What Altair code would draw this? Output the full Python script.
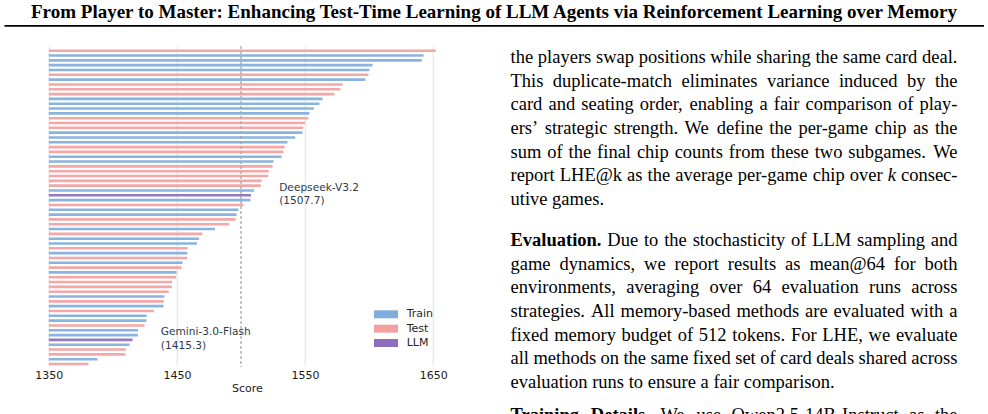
import altair as alt
import pandas as pd

# ---------------- chart data (top to bottom) ----------------
groups = ["Test", "Train", "Train", "Train", "Train", "Test", "Train", "Test", "Test", "Test",
          "Train", "Train", "Train", "Train", "Test", "Test", "Test", "Train", "Train", "Train",
          "Test", "Test", "Train", "Train", "Test", "Test", "Test", "Test", "Test", "Train",
          "LLM", "Train", "Test", "Train", "Train", "Test", "Test", "Train", "Test", "Train",
          "Train", "Test", "Train", "Test", "Train", "Test", "Train", "Test", "Test", "Test",
          "Test", "Train", "Test", "Train", "Test", "Train", "Train", "Test", "Train", "Train",
          "LLM", "Train", "Test", "Test", "Train", "Test"]
scores = [1652.0, 1642.4, 1641.0, 1602.6, 1600.2, 1599.4, 1597.0, 1579.4, 1577.6, 1572.8,
          1563.6, 1561.2, 1556.8, 1553.3, 1552.5, 1550.0, 1548.6, 1547.9, 1542.3, 1536.2,
          1534.0, 1533.1, 1531.6, 1525.4, 1524.6, 1521.5, 1521.3, 1516.0, 1515.4, 1510.2,
          1507.7, 1507.4, 1501.9, 1497.9, 1496.5, 1495.7, 1490.8, 1479.7, 1469.9, 1467.3,
          1465.6, 1458.3, 1458.1, 1457.9, 1454.3, 1453.5, 1449.7, 1449.3, 1446.3, 1446.0,
          1443.6, 1440.3, 1439.7, 1439.5, 1432.1, 1426.3, 1426.2, 1424.7, 1419.7, 1419.5,
          1415.3, 1413.0, 1410.1, 1409.8, 1388.0, 1381.0]
llm_names = ["Deepseek-V3.2", "Gemini-3.0-Flash"]
legend_labels = ["Train", "Test", "LLM"]
legend_colors = ["#7FAEDC", "#F2A0A0", "#8E6CBF"]
tick_values = [1350, 1450, 1550, 1650]
reference_score = [1500]

# ---------------- page text ----------------
header = "From Player to Master: Enhancing Test-Time Learning of LLM Agents via Reinforcement Learning over Memory"
# each line: (text pieces as (string, style)), justified?
para1 = [
    ([("the players swap positions while sharing the same card deal.", "r")], True),
    ([("This duplicate-match eliminates variance induced by the", "r")], True),
    ([("card and seating order, enabling a fair comparison of play-", "r")], True),
    ([("ers\u2019 strategic strength. We define the per-game chip as the", "r")], True),
    ([("sum of the final chip counts from these two subgames. We", "r")], True),
    ([("report LHE@k as the average per-game chip over", "r"), ("k", "i"), ("consec-", "r")], True),
    ([("utive games.", "r")], False),
]
para2 = [
    ([("Evaluation.", "b"), ("Due to the stochasticity of LLM sampling and", "r")], True),
    ([("game dynamics, we report results as mean@64 for both", "r")], True),
    ([("environments, averaging over 64 evaluation runs across", "r")], True),
    ([("strategies. All memory-based methods are evaluated with a", "r")], True),
    ([("fixed memory budget of 512 tokens. For LHE, we evaluate", "r")], True),
    ([("all methods on the same fixed set of card deals shared across", "r")], True),
    ([("evaluation runs to ensure a fair comparison.", "r")], False),
]
para3 = [
    ([("Training Details.", "b"), ("We use Qwen2.5-14B-Instruct as the", "r")], True),
]

# ---------------- tables ----------------
df = pd.DataFrame({"row": list(range(1, len(scores) + 1)), "group": groups, "score": scores})
ann = df[df["group"] == "LLM"].copy()
ann["name"] = llm_names
ann["label"] = ann["score"].map(lambda v: f"({v:.1f})")
ref = pd.DataFrame({"v": reference_score})
one = pd.DataFrame({"k": [0]})

# layout (pixels of the page)
OX, OY = 48.8, 46.0          # plot-area origin inside the 988x414 page
W, H = 396.0, 321.0

# ---- approximate Times metrics (per 1000 em) for justified typesetting ----
_R = dict(zip("ABCDEFGHIJKLMNOPQRSTUVWXYZ",
              [722, 667, 667, 722, 611, 556, 722, 722, 333, 389, 722, 611, 889, 722, 722, 556, 722, 667, 556, 611, 722, 722, 944, 722, 722, 611]))
_R.update(dict(zip("abcdefghijklmnopqrstuvwxyz",
                   [444, 500, 444, 500, 444, 333, 500, 500, 278, 278, 500, 278, 778, 500, 500, 500, 500, 333, 389, 278, 500, 500, 722, 500, 500, 444])))
_R.update({c: 500 for c in "0123456789"})
_R.update({" ": 250, ".": 250, ",": 250, "-": 333, "@": 921, "\u2019": 333, ":": 278})
_B = dict(zip("ABCDEFGHIJKLMNOPQRSTUVWXYZ",
              [722, 667, 722, 722, 667, 611, 778, 778, 389, 500, 778, 667, 944, 722, 778, 611, 778, 722, 556, 667, 722, 722, 1000, 722, 722, 667]))
_B.update(dict(zip("abcdefghijklmnopqrstuvwxyz",
                   [500, 556, 444, 556, 444, 333, 500, 556, 278, 333, 556, 278, 833, 556, 500, 556, 556, 444, 389, 333, 556, 500, 722, 500, 500, 444])))
_B.update({" ": 250, ".": 250, ",": 250, "-": 333})
_I = {"k": 444}
FS = 18.5
LEFT, RIGHT = 510.5, 957.5
LH = 23.65


def width(s, st):
    tab = {"r": _R, "b": _B, "i": _I}[st]
    return sum(tab.get(c, 500) for c in s) / 1000.0 * FS


def typeset(lines, y0):
    rows = []
    for i, (pieces, just) in enumerate(lines):
        y = y0 + i * LH - OY
        if not just:
            x = LEFT
            for s, st in pieces:
                rows.append({"t": s, "x": x - OX, "y": y, "kind": st + "l"})
                x += width(s, st) + width(" ", "r")
            continue
        words = [(w, st) for s, st in pieces for w in s.split(" ")]
        total = sum(width(w, st) for w, st in words)
        gap = (RIGHT - LEFT - total) / (len(words) - 1)
        x = LEFT
        for j, (w, st) in enumerate(words):
            if j == len(words) - 1:
                rows.append({"t": w, "x": RIGHT - OX, "y": y, "kind": st + "r"})
            else:
                rows.append({"t": w, "x": x - OX, "y": y, "kind": st + "l"})
            x += width(w, st) + gap
    return rows


words_df = pd.DataFrame(typeset(para1, 63.0) + typeset(para2, 246.0) + typeset(para3, 421.0))

xscale = alt.Scale(domain=[1350, 1659], nice=False, zero=False)
yscale = alt.Scale(type="band", domain=list(range(1, len(scores) + 1)),
                   range=[2.29, 320.41], paddingInner=0, paddingOuter=0)
cscale = alt.Scale(domain=legend_labels, range=legend_colors)

bars = alt.Chart(df).mark_bar(height=2.6, opacity=0.92).encode(
    x=alt.X("score:Q", scale=xscale,
            axis=alt.Axis(values=tick_values, title="Score", format="d", grid=True,
                          gridColor="#e9e9e9", gridWidth=1.3, domain=False,
                          ticks=False, tickSize=0, labelPadding=2.3,
                          labelFont="DejaVu Sans", labelFontSize=11, labelColor="#1a1a1a",
                          titleFont="DejaVu Sans", titleFontSize=11, titleFontWeight="normal",
                          titleColor="#1a1a1a", titlePadding=2, labelFlush=False)),
    x2=alt.datum(1350),
    y=alt.Y("row:O", scale=yscale, axis=None),
    color=alt.Color("group:N", scale=cscale,
                    legend=alt.Legend(orient="none", legendX=329.2, legendY=260.3, title=None,
                                      symbolType="M-1.5,-0.5L1.5,-0.5L1.5,0.5L-1.5,0.5Z",
                                      symbolSize=256, symbolStrokeWidth=0, symbolOpacity=1,
                                      labelFont="DejaVu Sans", labelFontSize=11,
                                      labelColor="#262626", labelOffset=12.7,
                                      rowPadding=1.35, padding=0)),
)

dash = alt.Chart(ref).mark_rule(strokeDash=[3, 2], color="#a8a8a8", strokeWidth=1.3).encode(
    x=alt.X("v:Q", scale=xscale)
)

name_txt = alt.Chart(ann).mark_text(align="left", baseline="middle", dx=28.3, dy=-7.5,
                                    font="DejaVu Sans", fontSize=10.6, color="#2d3a4e").encode(
    x=alt.X("score:Q", scale=xscale), y=alt.Y("row:O", scale=yscale, axis=None), text="name:N")
score_txt = alt.Chart(ann).mark_text(align="left", baseline="middle", dx=28.3, dy=6,
                                     font="DejaVu Sans", fontSize=10.6, color="#2d3a4e").encode(
    x=alt.X("score:Q", scale=xscale), y=alt.Y("row:O", scale=yscale, axis=None), text="label:N")

# ---- page furniture (header, rule, body text) ----
head = alt.Chart(one).mark_text(align="center", baseline="alphabetic", font="Liberation Serif",
                                fontSize=19, fontWeight="bold", color="#000000").encode(
    x=alt.value(494 - OX), y=alt.value(17.5 - OY), text=alt.value(header))
hrule = alt.Chart(one).mark_rule(color="#000000", strokeWidth=1.8).encode(
    x=alt.value(4.5 - OX), x2=alt.value(984 - OX), y=alt.value(25.8 - OY))


def word_layer(kind, align, weight, style):
    return alt.Chart(words_df).transform_filter(alt.datum.kind == kind).mark_text(
        align=align, baseline="alphabetic", font="Liberation Serif", fontSize=FS,
        fontWeight=weight, fontStyle=style, color="#000000").encode(
        x=alt.X("x:Q", scale=None), y=alt.Y("y:Q", scale=None), text="t:N")


w_rl = word_layer("rl", "left", "normal", "normal")
w_rr = word_layer("rr", "right", "normal", "normal")
w_bl = word_layer("bl", "left", "bold", "normal")
w_il = word_layer("il", "left", "normal", "italic")

chart = alt.layer(
    bars, dash, name_txt, score_txt,
    head, hrule, w_rl, w_rr, w_bl, w_il
).properties(
    width=W, height=H,
    padding={"left": OX, "top": OY, "right": 988 - OX - W, "bottom": 414 - OY - H},
    autosize=alt.AutoSizeParams(type="none"),
    background="white",
).configure_view(stroke=None)

chart.save("out.html", embed_options={"renderer": "svg", "actions": False})
